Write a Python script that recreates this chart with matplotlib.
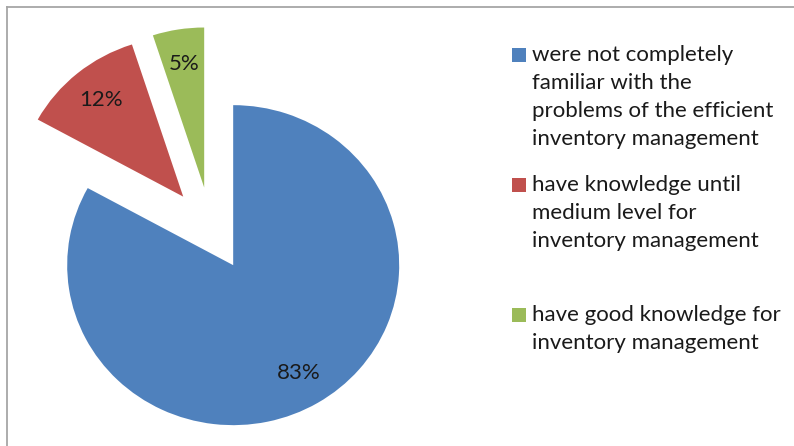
import matplotlib.pyplot as plt
from matplotlib.patches import Rectangle
from matplotlib.lines import Line2D

plt.rcParams['font.family'] = ['Lato', 'DejaVu Sans']

labels = [
    'were not completely\nfamiliar with the\nproblems of the efficient\ninventory management',
    'have knowledge until\nmedium level for\ninventory management',
    'have good knowledge for\ninventory management',
]
shares = [83, 12, 5]
colors = ['#4F81BD', '#C0504D', '#9BBB59']

W, H = 794, 446
fig = plt.figure(figsize=(W / 100, H / 100), dpi=100)

# pie axes: centre at (211, 229) px, slightly wider than tall like the original
cx, cy, rx, ry = 211, 229, 166, 160
half_w, half_h = 205, 214
ax = fig.add_axes([(cx - half_w) / W, 1 - (cy + half_h) / H, 2 * half_w / W, 2 * half_h / H])
wedges, texts, autotexts = ax.pie(shares, colors=colors, startangle=90, counterclock=False,
                                  explode=[0.2625] * 3, radius=1.0,
                                  autopct='%1.0f%%', pctdistance=0.78,
                                  wedgeprops={'linewidth': 0},
                                  textprops={'fontsize': 16, 'color': '#1a1a1a'})
ax.set_xlim(-half_w / rx, half_w / rx)
ax.set_ylim(-half_h / ry, half_h / ry)
ax.set_aspect('auto')
ax.axis('off')

# legend drawn by hand (Excel-style evenly spaced entries)
entry_tops = [45, 175, 305]
for lab, col, top in zip(labels, colors, entry_tops):
    fig.patches.append(Rectangle((512 / W, 1 - (top + 17) / H), 14 / W, 14 / H,
                                 transform=fig.transFigure, facecolor=col, edgecolor='none'))
    fig.text(532 / W, 1 - top / H, lab, fontsize=16, color='#1a1a1a',
             ha='left', va='top', linespacing=1.5)

# chart frame (top and left edges visible)
fig.add_artist(Line2D([6.5 / W, 1], [1 - 6.5 / H, 1 - 6.5 / H], color='#a6a6a6', lw=1.3,
                      transform=fig.transFigure))
fig.add_artist(Line2D([6.5 / W, 6.5 / W], [0, 1 - 6.5 / H], color='#a6a6a6', lw=1.3,
                      transform=fig.transFigure))

fig.savefig('out.png', dpi=100)
